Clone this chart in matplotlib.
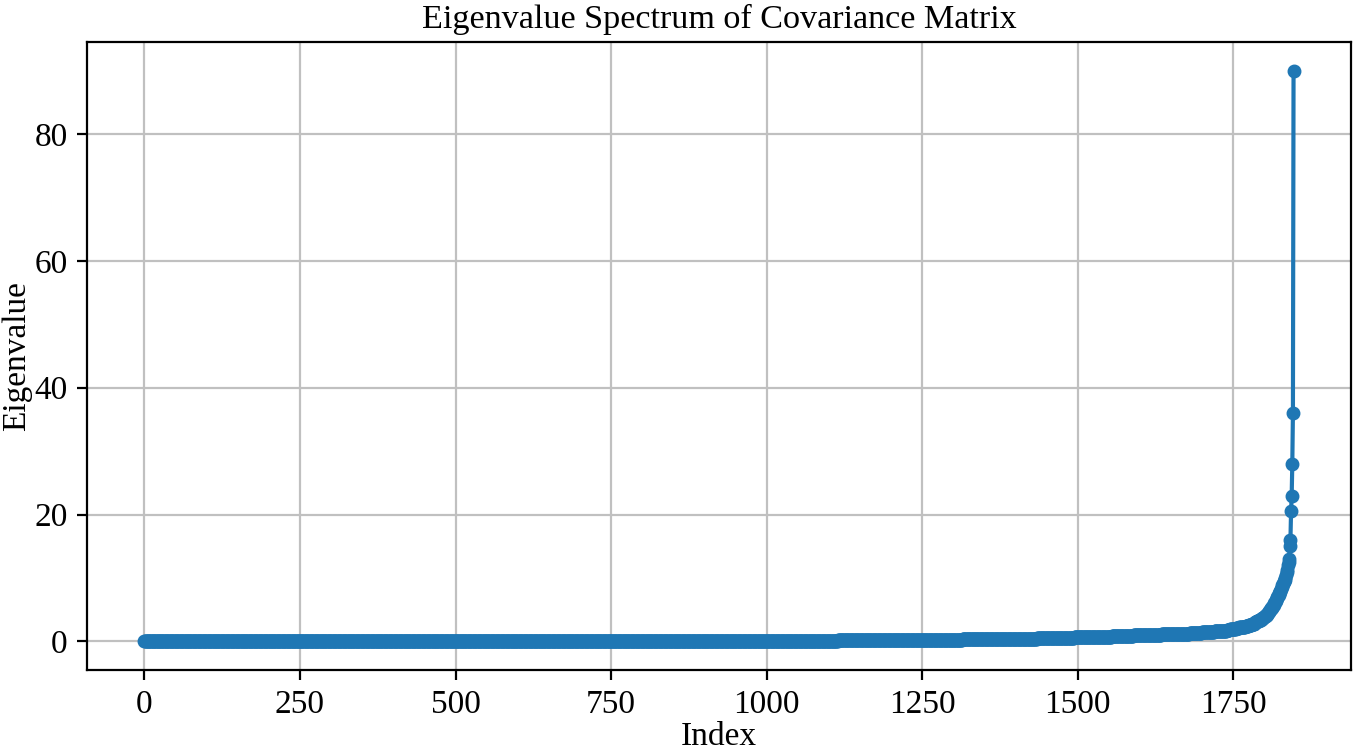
import numpy as np
import matplotlib
matplotlib.use("Agg")
import matplotlib.pyplot as plt

plt.rcParams['font.family'] = ['Liberation Serif', 'DejaVu Serif']
plt.rcParams['font.size'] = 12

# Bulk of the spectrum read as plateau levels (value, number of eigenvalues)
bulk_levels = [0.0, 0.02, 0.04, 0.06, 0.08, 0.1, 0.12, 0.14, 0.16, 0.19,
               0.22, 0.25, 0.28, 0.31, 0.34, 0.38, 0.42, 0.46, 0.5, 0.55,
               0.6, 0.65, 0.7, 0.75, 0.8, 0.85, 0.9, 0.95, 1.0, 1.05,
               1.1, 1.15, 1.2, 1.27, 1.35, 1.42, 1.5, 1.6, 1.7, 1.8,
               1.9, 2.0, 2.1, 2.2, 2.35, 2.5, 2.65, 2.8]
bulk_counts = [480, 235, 100, 75, 75, 50, 50, 50, 50, 50,
               40, 30, 30, 30, 30, 20, 20, 20, 20, 20,
               20, 20, 20, 20, 10, 10, 15, 15, 15, 15,
               15, 15, 15, 10, 10, 10, 10, 10, 10, 5,
               5, 5, 5, 5, 5, 5, 5, 5]

# Largest eigenvalues read individually
tail_values = [3.0, 3.05, 3.1, 3.15, 3.2, 3.25, 3.3, 3.35, 3.4, 3.45,
               3.5, 3.58, 3.66, 3.74, 3.82, 3.9, 3.98, 4.06, 4.14, 4.22,
               4.3, 4.45, 4.6, 4.75, 4.9, 5.05, 5.2, 5.35, 5.5, 5.65,
               5.8, 6.0, 6.2, 6.4, 6.6, 6.8, 7.0, 7.2, 7.4, 7.6,
               7.8, 8.0, 8.3, 8.6, 8.9, 9.1, 9.3, 9.5, 9.7, 10.0,
               10.5, 11.0, 11.3, 12.0, 12.5, 13.0, 15.0, 16.0, 20.5, 23.0,
               28.0, 36.0, 90.0]

eigenvalues = np.concatenate([np.repeat(bulk_levels, bulk_counts), tail_values])
index = np.arange(len(eigenvalues))

fig = plt.figure(figsize=(6.78, 3.755), dpi=200)
ax = fig.add_axes([87/1356, 1 - 670/751, (1351 - 87)/1356, (670 - 42)/751])
ax.plot(index, eigenvalues, 'o-', color='#1f77b4', markersize=4, linewidth=1.5)
ax.set_title('Eigenvalue Spectrum of Covariance Matrix', fontsize=12.3, pad=5)
ax.set_xlabel('Index', fontsize=12)
ax.set_ylabel('Eigenvalue', fontsize=12)
ax.xaxis.set_label_coords(0.5, -0.106)
ax.yaxis.set_label_coords(-0.0555, 0.5)
ax.xaxis.label.set_va('center')
ax.yaxis.label.set_va('center')
ax.set_xticks([0, 250, 500, 750, 1000, 1250, 1500, 1750])
ax.set_yticks([0, 20, 40, 60, 80])
ax.grid(True, color='#c0c0c0', linewidth=0.8)
ax.set_axisbelow(True)
fig.savefig('out.png', dpi=200)
